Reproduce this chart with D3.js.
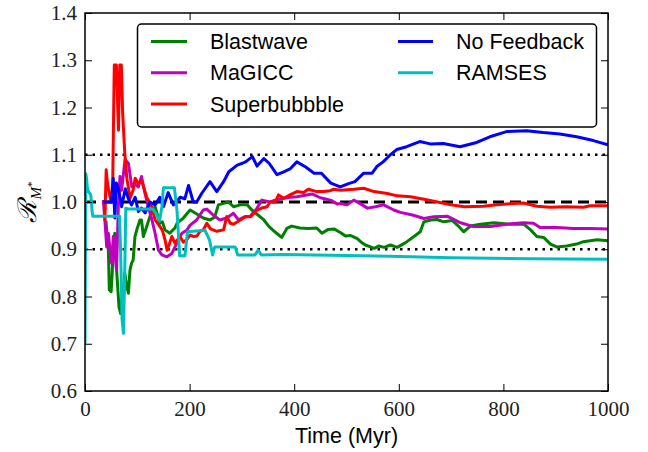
<!DOCTYPE html>
<html>
<head>
<meta charset="utf-8">
<script src="https://cdn.jsdelivr.net/npm/d3@7"></script>
<style>
  html, body { margin: 0; padding: 0; background: #fff; }
  svg { display: block; }
</style>
</head>
<body>
<svg id="chart" width="648" height="452"></svg>
<script>
// Stellar mass ratio vs time for each feedback model: [time (Myr), ratio]
const blastwave = [[40,0.96],[42,0.93],[44.6,0.90],[46.5,0.814],[50,0.81],[52,0.85],[54,0.905],[57,0.934],[60,0.863],[65,0.778],[68,0.764],[71,0.80],[73,0.793],[76,0.85],[80,0.82],[83,0.807],[86,0.856],[89,0.87],[92,0.877],[95.6,0.927],[99,0.941],[105,0.962],[108,0.962],[111.6,0.927],[118,0.948],[124,0.969],[130,0.983],[134,0.99],[143,0.955],[148,0.958],[153,0.941],[162,0.934],[172,0.945],[176,0.955],[188,0.966],[201,0.983],[213,0.975],[226,0.966],[239,0.962],[248,0.968],[255,0.994],[265,0.997],[274,1.0],[284,0.99],[297,0.994],[310,0.994],[319,0.983],[329,0.974],[342,0.962],[352,0.948],[363,0.937],[376,0.925],[386,0.944],[395,0.949],[411,0.945],[427,0.944],[443,0.945],[453,0.934],[465,0.942],[476,0.943],[489,0.935],[498,0.928],[508,0.929],[520,0.923],[527,0.916],[536,0.909],[546,0.905],[553,0.902],[562,0.907],[572,0.904],[584,0.909],[597,0.904],[613,0.914],[629,0.927],[641,0.937],[648,0.958],[661,0.962],[673,0.963],[686,0.958],[702,0.961],[714,0.949],[724,0.937],[737,0.949],[756,0.953],[782,0.956],[813,0.953],[839,0.953],[852,0.941],[864,0.927],[877,0.925],[890,0.911],[902,0.905],[921,0.907],[940,0.911],[953,0.916],[979,0.92],[1000,0.918]];

const magicc = [[35,1.004],[38,0.962],[41.5,0.905],[44.6,0.934],[47.8,0.898],[51,0.87],[54,0.927],[57,0.90],[60.3,0.856],[63.7,0.99],[66.9,1.054],[70,1.025],[76.5,1.089],[83,1.082],[89.5,1.032],[95.6,1.039],[102,1.032],[108,1.054],[114.7,1.018],[121,0.99],[128,0.962],[134,0.934],[140.5,0.898],[147,0.888],[156.6,0.884],[166,0.891],[175.7,0.913],[185.4,0.934],[195,0.941],[201,0.951],[213.5,0.962],[226,0.983],[233,0.985],[245.5,0.972],[258,0.962],[271,0.966],[284,0.976],[293.5,0.962],[306,0.969],[316,0.97],[328,0.985],[338,1.004],[354,1.0],[361,1.003],[380,1.008],[393,1.01],[405,1.011],[424,1.015],[434,1.017],[450,1.009],[469.5,1.004],[482,0.996],[489,0.997],[501,0.994],[514,1.004],[527,0.996],[540,0.987],[555.5,0.99],[571,0.994],[590.5,0.983],[603,0.978],[628,0.972],[648,0.965],[667,0.969],[692.5,0.97],[718,0.956],[743,0.948],[775,0.948],[806.6,0.953],[838.5,0.956],[857.5,0.955],[870,0.946],[902,0.946],[934,0.944],[966,0.944],[1000,0.943]];

const superbubble = [[38,0.96],[40.5,1.068],[43,1.04],[46,1.02],[50,1.0],[53,1.04],[56,1.29],[60,1.29],[64,1.152],[66.5,1.29],[69.5,1.29],[72,1.188],[76,1.104],[80,1.05],[83,1.03],[86,1.008],[92,1.025],[96,1.05],[102,1.039],[108,1.045],[112,1.032],[118,1.01],[127.5,0.99],[134,0.962],[143.4,0.948],[148,0.94],[153,0.92],[157,0.898],[161,0.91],[166,0.927],[172,0.913],[181.6,0.927],[188,0.915],[194.4,0.92],[201,0.93],[207,0.927],[214,0.928],[220,0.938],[226,0.941],[233,0.955],[240,0.943],[252,0.938],[265,0.941],[271,0.969],[278,0.955],[284,0.953],[297,0.962],[307,0.969],[316.5,0.969],[329,0.983],[340,0.988],[348,0.99],[354,1.0],[364,1.0],[370,1.015],[380,1.008],[392,1.015],[405,1.022],[418,1.02],[427,1.027],[443,1.022],[456,1.022],[469,1.024],[475.5,1.027],[489,1.025],[514,1.027],[533,1.029],[552.6,1.022],[578,1.018],[597,1.013],[622.6,1.011],[648,1.006],[674,1.0],[699.6,0.994],[725,0.99],[762,0.991],[787,0.994],[819,0.997],[838,0.998],[864,0.991],[889.5,0.989],[920,0.99],[953,0.989],[966,0.992],[1000,0.992]];

const noFeedback = [[35,1.0],[51,1.0],[54,1.05],[57,0.966],[60,1.04],[64,1.028],[70,0.99],[77,1.028],[83,1.007],[89,0.994],[96,1.01],[102,0.98],[108,0.987],[115,0.977],[124,1.0],[134,0.994],[143,1.01],[150,0.99],[159,1.02],[169,0.994],[175,1.0],[182,1.01],[191,1.007],[198,1.035],[207,1.0],[213.5,1.0],[223,1.018],[239,1.043],[252,1.022],[265,1.043],[275,1.064],[291,1.078],[301,1.082],[307,1.085],[320,1.096],[329,1.076],[342,1.092],[352,1.082],[367,1.058],[380,1.064],[392,1.07],[405,1.085],[422,1.074],[438,1.061],[452,1.061],[470,1.04],[488,1.032],[504,1.039],[516,1.043],[533,1.061],[549,1.061],[558,1.075],[570,1.085],[583,1.099],[596,1.111],[615,1.117],[640,1.128],[660,1.123],[685,1.124],[717,1.117],[749,1.126],[774,1.138],[806,1.149],[844,1.151],[876,1.147],[908,1.144],[940,1.138],[972,1.13],[1000,1.121]];

const ramses = [[0,0.70],[1.5,1.06],[3,1.05],[5,1.025],[11,1.015],[14,0.976],[15,0.97],[66,0.97],[68,0.90],[71,0.75],[73.5,0.722],[76,0.85],[78,0.987],[83,0.985],[130,0.985],[136,0.975],[142.6,0.96],[147,0.99],[150,1.03],[171,1.03],[176,0.98],[181,0.886],[191,0.886],[196,0.937],[229.5,0.94],[238,0.92],[244,0.888],[248,0.905],[287,0.905],[292,0.888],[325,0.888],[331,0.898],[337,0.888],[379,0.889],[500,0.887],[583,0.885],[700,0.882],[850,0.88],[1000,0.879]];

const seriesNames = ["Blastwave", "MaGICC", "Superbubbble", "No Feedback", "RAMSES"];
const seriesColors = ["#008000", "#bf00bf", "#ff0000", "#0000ff", "#00bfbf"];
const seriesData = [blastwave, magicc, superbubble, noFeedback, ramses];

const xTicks = [0, 200, 400, 600, 800, 1000];
const yTicks = [0.6, 0.7, 0.8, 0.9, 1.0, 1.1, 1.2, 1.3, 1.4];
const dottedLevels = [0.9, 1.1];
const dashedLevel = 1.0;

const svg = d3.select("#chart");
const pLeft = 85, pRight = 608, pTop = 13, pBottom = 391;

const x = d3.scaleLinear().domain([0, 1000]).range([pLeft, pRight]);
const y = d3.scaleLinear().domain([0.6, 1.4]).range([pBottom, pTop]);

svg.append("defs").append("clipPath").attr("id", "plotclip")
  .append("rect").attr("x", pLeft).attr("y", pTop)
  .attr("width", pRight - pLeft).attr("height", pBottom - pTop);

const plot = svg.append("g").attr("clip-path", "url(#plotclip)");

// reference levels
dottedLevels.forEach(v => {
  plot.append("line")
    .attr("x1", x(0)).attr("x2", x(1000))
    .attr("y1", y(v)).attr("y2", y(v))
    .attr("stroke", "#000").attr("stroke-width", 2.5)
    .attr("stroke-dasharray", "2.5,5");
});
plot.append("line")
  .attr("x1", x(0)).attr("x2", x(1000))
  .attr("y1", y(dashedLevel)).attr("y2", y(dashedLevel))
  .attr("stroke", "#000").attr("stroke-width", 3)
  .attr("stroke-dasharray", "11,6");

const line = d3.line().x(d => x(d[0])).y(d => y(d[1]));

seriesData.forEach((data, i) => {
  plot.append("path")
    .datum(data)
    .attr("d", line)
    .attr("fill", "none")
    .attr("stroke", seriesColors[i])
    .attr("stroke-width", 3)
    .attr("stroke-linejoin", "round");
});

// axes with inward ticks on all four sides
const tickFont = "'Liberation Serif', 'DejaVu Serif', serif";
const axB = svg.append("g").attr("transform", `translate(0,${pBottom})`)
  .call(d3.axisBottom(x).tickValues(xTicks).tickFormat(d3.format("d")).tickSizeInner(-7).tickSizeOuter(0).tickPadding(10));
const axT = svg.append("g").attr("transform", `translate(0,${pTop})`)
  .call(d3.axisTop(x).tickValues(xTicks).tickFormat("").tickSizeInner(-7).tickSizeOuter(0));
const axL = svg.append("g").attr("transform", `translate(${pLeft},0)`)
  .call(d3.axisLeft(y).tickValues(yTicks).tickFormat(d3.format(".1f")).tickSizeInner(-7).tickSizeOuter(0).tickPadding(8));
const axR = svg.append("g").attr("transform", `translate(${pRight},0)`)
  .call(d3.axisRight(y).tickValues(yTicks).tickFormat("").tickSizeInner(-7).tickSizeOuter(0));

[axB, axT, axL, axR].forEach(g => {
  g.select(".domain").remove();
  g.attr("font-family", null).attr("font-size", null);
  g.selectAll(".tick line").attr("stroke", "#000").attr("stroke-width", 1);
  g.selectAll("text").style("font-family", tickFont).style("font-size", "21px").attr("fill", "#222");
});

// frame
svg.append("rect").attr("x", pLeft).attr("y", pTop)
  .attr("width", pRight - pLeft).attr("height", pBottom - pTop)
  .attr("fill", "none").attr("stroke", "#000").attr("stroke-width", 1.5);

// axis titles
const sans = "'Liberation Sans', Arial, sans-serif";
svg.append("text").attr("x", (pLeft + pRight) / 2).attr("y", 443)
  .attr("text-anchor", "middle").style("font-family", sans).style("font-size", "21.5px")
  .text("Time (Myr)");

const yl = svg.append("text")
  .attr("transform", `translate(36,${(pTop + pBottom) / 2}) rotate(-90)`)
  .attr("text-anchor", "middle").style("font-family", tickFont);
yl.append("tspan").style("font-size", "26px").attr("font-style", "italic").text("ℛ");
yl.append("tspan").style("font-size", "15px").attr("font-style", "italic").attr("dy", 5).text("M");
yl.append("tspan").style("font-size", "11px").attr("dy", -6).text("*");

// legend
const lg = svg.append("g");
lg.append("rect").attr("x", 137.5).attr("y", 24).attr("width", 459).attr("height", 103)
  .attr("rx", 4).attr("fill", "#fff").attr("stroke", "#000").attr("stroke-width", 1.5);
const colX = [[151, 187, 210], [398, 433, 456]];
const rowY = [41.5, 72.7, 104];
seriesNames.forEach((name, i) => {
  const c = i < 3 ? 0 : 1, r = i < 3 ? i : i - 3;
  lg.append("line").attr("x1", colX[c][0]).attr("x2", colX[c][1])
    .attr("y1", rowY[r]).attr("y2", rowY[r])
    .attr("stroke", seriesColors[i]).attr("stroke-width", 3);
  lg.append("text").attr("x", colX[c][2]).attr("y", rowY[r] + 7.5)
    .style("font-family", sans).style("font-size", "21.5px").attr("fill", "#000")
    .text(name);
});
</script>
</body>
</html>
